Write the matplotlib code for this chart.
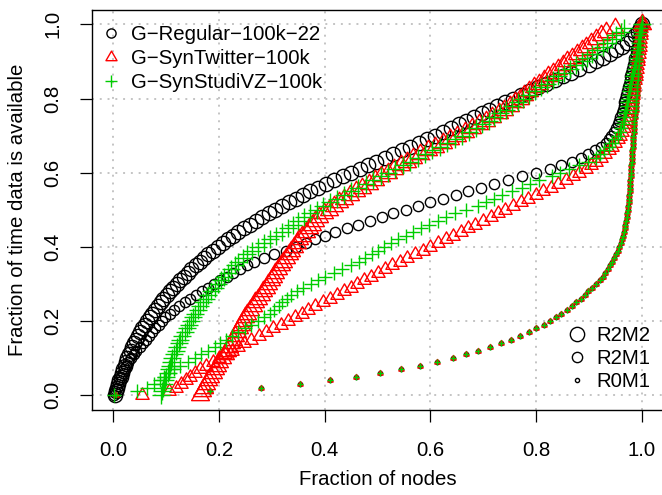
"""Fraction of time data is available vs. fraction of nodes, three graphs x three configs."""

import matplotlib
matplotlib.use("Agg")
import matplotlib.pyplot as plt
import numpy as np
from matplotlib.lines import Line2D
from matplotlib.path import Path

# --------------------------------------------------------------------------- #
# Data (x = fraction of nodes at each availability level)
# --------------------------------------------------------------------------- #
# availability thresholds on the y axis: 0.00, 0.01, ..., 1.00
avail = np.round(np.linspace(0.0, 1.0, 101), 2)

regular_r2m2 = [
    0.004, 0.006, 0.008, 0.010, 0.012, 0.014, 0.017, 0.019, 0.022, 0.024,
    0.027, 0.030, 0.033, 0.036, 0.040, 0.043, 0.047, 0.051, 0.055, 0.060,
    0.064, 0.069, 0.074, 0.079, 0.084, 0.090, 0.095, 0.101, 0.107, 0.113,
    0.120, 0.127, 0.134, 0.141, 0.148, 0.156, 0.164, 0.172, 0.180, 0.189,
    0.198, 0.207, 0.217, 0.227, 0.237, 0.248, 0.259, 0.270, 0.282, 0.294,
    0.306, 0.319, 0.332, 0.345, 0.359, 0.373, 0.388, 0.403, 0.418, 0.434,
    0.450, 0.466, 0.482, 0.498, 0.514, 0.530, 0.546, 0.562, 0.578, 0.594,
    0.609, 0.624, 0.639, 0.654, 0.668, 0.682, 0.697, 0.711, 0.726, 0.741,
    0.756, 0.771, 0.787, 0.803, 0.819, 0.835, 0.851, 0.866, 0.881, 0.900,
    0.913, 0.926, 0.939, 0.951, 0.962, 0.972, 0.980, 0.987, 0.993, 0.997,
    1.000,
]
twitter_r2m2 = [
    0.165, 0.168, 0.172, 0.176, 0.180, 0.184, 0.188, 0.192, 0.197, 0.201,
    0.206, 0.211, 0.215, 0.219, 0.223, 0.227, 0.231, 0.234, 0.238, 0.241,
    0.245, 0.249, 0.254, 0.259, 0.264, 0.269, 0.274, 0.279, 0.284, 0.289,
    0.293, 0.298, 0.302, 0.307, 0.312, 0.317, 0.322, 0.327, 0.332, 0.337,
    0.342, 0.347, 0.352, 0.358, 0.364, 0.370, 0.376, 0.382, 0.390, 0.399,
    0.408, 0.417, 0.427, 0.437, 0.448, 0.459, 0.471, 0.483, 0.495, 0.507,
    0.520, 0.532, 0.544, 0.556, 0.568, 0.581, 0.595, 0.609, 0.623, 0.637,
    0.651, 0.665, 0.679, 0.692, 0.705, 0.717, 0.729, 0.740, 0.750, 0.760,
    0.769, 0.778, 0.787, 0.796, 0.805, 0.814, 0.823, 0.832, 0.841, 0.850,
    0.859, 0.868, 0.877, 0.886, 0.895, 0.904, 0.913, 0.922, 0.932, 0.950,
    1.000,
]
studivz_r2m2 = [
    0.090, 0.092, 0.094, 0.096, 0.098, 0.100, 0.103, 0.105, 0.107, 0.110,
    0.112, 0.115, 0.118, 0.121, 0.124, 0.127, 0.131, 0.135, 0.139, 0.143,
    0.147, 0.151, 0.155, 0.160, 0.165, 0.170, 0.175, 0.180, 0.186, 0.192,
    0.198, 0.204, 0.210, 0.217, 0.223, 0.230, 0.237, 0.245, 0.254, 0.263,
    0.274, 0.285, 0.297, 0.308, 0.319, 0.330, 0.340, 0.350, 0.361, 0.373,
    0.385, 0.397, 0.410, 0.423, 0.436, 0.450, 0.464, 0.478, 0.492, 0.506,
    0.520, 0.534, 0.548, 0.562, 0.576, 0.590, 0.604, 0.618, 0.632, 0.646,
    0.660, 0.673, 0.686, 0.698, 0.710, 0.721, 0.732, 0.743, 0.754, 0.765,
    0.776, 0.787, 0.798, 0.809, 0.820, 0.831, 0.842, 0.853, 0.864, 0.875,
    0.886, 0.896, 0.906, 0.916, 0.926, 0.935, 0.944, 0.952, 0.960, 0.967,
    1.000,
]
regular_r2m1 = [
    0.002, 0.004, 0.007, 0.009, 0.012, 0.015, 0.018, 0.021, 0.025, 0.029,
    0.034, 0.039, 0.044, 0.050, 0.056, 0.062, 0.068, 0.074, 0.080, 0.086,
    0.092, 0.099, 0.107, 0.115, 0.125, 0.136, 0.146, 0.157, 0.168, 0.180,
    0.191, 0.203, 0.215, 0.227, 0.240, 0.253, 0.266, 0.285, 0.305, 0.326,
    0.346, 0.364, 0.382, 0.400, 0.420, 0.442, 0.464, 0.486, 0.508, 0.530,
    0.553, 0.576, 0.600, 0.624, 0.648, 0.672, 0.696, 0.720, 0.746, 0.774,
    0.800, 0.826, 0.848, 0.868, 0.884, 0.899, 0.912, 0.923, 0.932, 0.937,
    0.942, 0.947, 0.951, 0.954, 0.957, 0.959, 0.962, 0.964, 0.966, 0.967,
    0.969, 0.970, 0.972, 0.973, 0.975, 0.977, 0.978, 0.980, 0.981, 0.983,
    0.985, 0.986, 0.988, 0.989, 0.990, 0.992, 0.993, 0.995, 0.996, 0.997,
    1.000,
]
twitter_r2m1 = [
    0.055, 0.105, 0.118, 0.128, 0.137, 0.146, 0.155, 0.165, 0.176, 0.188,
    0.200, 0.212, 0.224, 0.236, 0.248, 0.261, 0.275, 0.289, 0.303, 0.317,
    0.330, 0.344, 0.357, 0.369, 0.382, 0.396, 0.410, 0.424, 0.437, 0.450,
    0.462, 0.474, 0.487, 0.500, 0.514, 0.528, 0.542, 0.556, 0.571, 0.586,
    0.600, 0.615, 0.629, 0.643, 0.657, 0.671, 0.685, 0.700, 0.714, 0.728,
    0.742, 0.756, 0.771, 0.785, 0.799, 0.813, 0.828, 0.842, 0.856, 0.870,
    0.882, 0.894, 0.904, 0.914, 0.922, 0.930, 0.937, 0.943, 0.949, 0.954,
    0.959, 0.963, 0.966, 0.969, 0.971, 0.973, 0.975, 0.977, 0.979, 0.980,
    0.982, 0.983, 0.984, 0.985, 0.986, 0.987, 0.988, 0.989, 0.990, 0.991,
    0.992, 0.993, 0.994, 0.995, 0.996, 0.997, 0.997, 0.998, 0.999, 0.999,
    1.000,
]
studivz_r2m1 = [
    0.002, 0.045, 0.064, 0.078, 0.088, 0.097, 0.106, 0.115, 0.127, 0.141,
    0.155, 0.167, 0.180, 0.192, 0.203, 0.214, 0.225, 0.237, 0.249, 0.261,
    0.274, 0.285, 0.296, 0.305, 0.313, 0.320, 0.328, 0.336, 0.347, 0.360,
    0.374, 0.388, 0.401, 0.417, 0.433, 0.449, 0.465, 0.477, 0.489, 0.501,
    0.513, 0.525, 0.539, 0.553, 0.568, 0.582, 0.598, 0.614, 0.630, 0.646,
    0.668, 0.690, 0.705, 0.720, 0.736, 0.754, 0.773, 0.789, 0.806, 0.830,
    0.846, 0.862, 0.882, 0.899, 0.913, 0.921, 0.928, 0.938, 0.944, 0.950,
    0.955, 0.958, 0.961, 0.964, 0.966, 0.967, 0.969, 0.970, 0.971, 0.972,
    0.973, 0.975, 0.976, 0.977, 0.979, 0.980, 0.982, 0.984, 0.985, 0.987,
    0.988, 0.989, 0.990, 0.991, 0.992, 0.993, 0.994, 0.995, 0.997, 0.998,
    1.000,
]
# R0M1: the three graphs lie on top of each other
r0m1 = [
    0.005, 0.184, 0.279, 0.354, 0.410, 0.460, 0.504, 0.545, 0.580, 0.612,
    0.642, 0.667, 0.691, 0.713, 0.733, 0.752, 0.769, 0.786, 0.800, 0.814,
    0.826, 0.837, 0.848, 0.858, 0.867, 0.876, 0.884, 0.892, 0.899, 0.906,
    0.914, 0.920, 0.926, 0.931, 0.936, 0.940, 0.944, 0.948, 0.951, 0.954,
    0.957, 0.960, 0.962, 0.964, 0.966, 0.968, 0.969, 0.970, 0.971, 0.972,
    0.973, 0.974, 0.975, 0.976, 0.976, 0.977, 0.977, 0.978, 0.978, 0.979,
    0.979, 0.980, 0.980, 0.981, 0.981, 0.982, 0.982, 0.983, 0.983, 0.984,
    0.984, 0.985, 0.985, 0.986, 0.986, 0.987, 0.987, 0.988, 0.988, 0.989,
    0.989, 0.990, 0.990, 0.991, 0.991, 0.992, 0.992, 0.993, 0.993, 0.994,
    0.994, 0.995, 0.995, 0.996, 0.996, 0.997, 0.997, 0.998, 0.998, 0.999,
    1.000,
]

graph_labels = ["G\u2212Regular\u2212100k\u221222", "G\u2212SynTwitter\u2212100k",
                "G\u2212SynStudiVZ\u2212100k"]
config_labels = ["R2M2", "R2M1", "R0M1"]
ticks = [0.0, 0.2, 0.4, 0.6, 0.8, 1.0]
tick_labels = ["0.0", "0.2", "0.4", "0.6", "0.8", "1.0"]

series = {
    "regular": [regular_r2m2, regular_r2m1, r0m1],
    "twitter": [twitter_r2m2, twitter_r2m1, r0m1],
    "studivz": [studivz_r2m2, studivz_r2m1, r0m1],
}

# --------------------------------------------------------------------------- #
# Styling (R base graphics look)
# --------------------------------------------------------------------------- #
plt.rcParams["font.family"] = ["Liberation Sans", "DejaVu Sans"]
FS = 14.7

# equilateral triangle like R's pch = 2
TRI = Path([(0, 1.555), (1.347, -0.778), (-1.347, -0.778), (0, 1.555)],
           [Path.MOVETO, Path.LINETO, Path.LINETO, Path.CLOSEPOLY])

COLORS = {"regular": "black", "twitter": "#FF0000", "studivz": "#00CD00"}
MARKERS = {"regular": "o", "twitter": TRI, "studivz": "+"}
# marker sizes per config (R2M2, R2M1, R0M1)
SIZES = {"regular": [10.3, 7.4, 3.0], "twitter": [14.8, 11.0, 4.4],
         "studivz": [13.0, 9.8, 3.8]}
LEGEND_SIZES = {"regular": 6.6, "twitter": 9.2, "studivz": 8.4}
MEW = 1.0

fig = plt.figure(figsize=(6.62, 4.95), dpi=100)
ax = fig.add_axes([92 / 662, 85 / 495, 571 / 662, 400.5 / 495])

for key in ["regular", "twitter", "studivz"]:
    for xs, ms in zip(series[key], SIZES[key]):
        ax.plot(xs, avail, ls="none", marker=MARKERS[key], ms=ms, mfc="none",
                mec=COLORS[key], mew=MEW, zorder=3)

ax.set_xlim(-0.04, 1.04)
ax.set_ylim(-0.04, 1.04)
ax.set_xticks(ticks, tick_labels, va="center")
ax.set_yticks(ticks, tick_labels, rotation=90, va="center", ha="center")
ax.tick_params(direction="out", length=8.6, width=0.9, labelsize=FS, color="black")
ax.tick_params(axis="x", pad=20.6)
ax.tick_params(axis="y", pad=19.6)
for sp in ax.spines.values():
    sp.set_linewidth(1.0)

# grid(): dotted light gray at the ticks
ax.grid(True, color="#C4C4C4", lw=1.4, ls=(0, (1, 3)), zorder=0)

ax.set_xlabel("Fraction of nodes", fontsize=FS, va="baseline")
ax.xaxis.set_label_coords(0.5, (410 - 485) / 400.5)
ax.set_ylabel("Fraction of time data is available", fontsize=FS, va="baseline")
ax.yaxis.set_label_coords((23 - 92) / 571, 0.5)

# legend for the graphs
h1 = [Line2D([], [], ls="none", marker=MARKERS[k], ms=LEGEND_SIZES[k], mfc="none",
             mec=COLORS[k], mew=MEW) for k in ["regular", "twitter", "studivz"]]
leg1 = ax.legend(h1, graph_labels, loc="upper left", bbox_to_anchor=(0.0154, 0.9618),
                 frameon=False, fontsize=FS, handlelength=1.0, handletextpad=0.48,
                 labelspacing=0.25, borderpad=0, borderaxespad=0)
ax.add_artist(leg1)

# legend for the configurations
h2 = [Line2D([], [], ls="none", marker="o", ms=s, mfc="none", mec="black", mew=MEW)
      for s in SIZES["regular"]]
ax.legend(h2, config_labels, loc="upper left", bbox_to_anchor=(0.832, 0.2085),
          frameon=False, fontsize=FS, handlelength=1.0, handletextpad=0.42,
          labelspacing=0.19, borderpad=0, borderaxespad=0)

fig.savefig("out.png", dpi=100)
plt.close(fig)
